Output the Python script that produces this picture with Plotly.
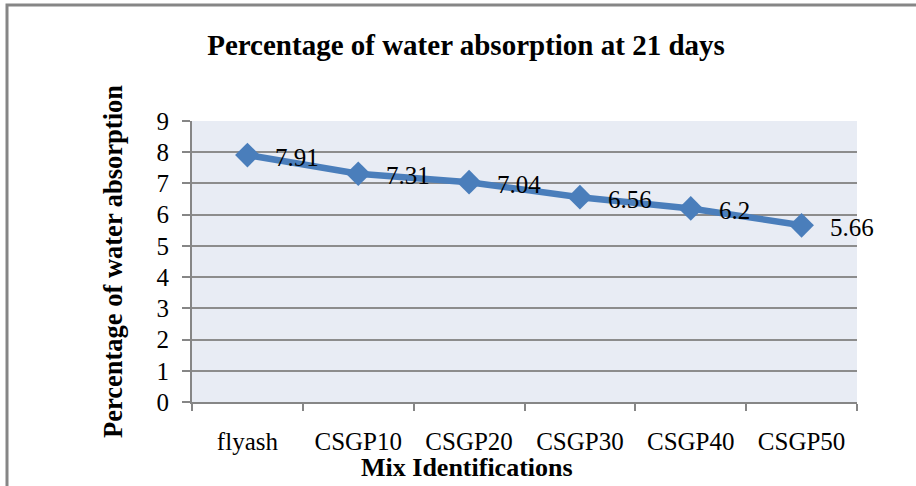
import plotly.graph_objects as go

categories = ["flyash", "CSGP10", "CSGP20", "CSGP30", "CSGP40", "CSGP50"]
values = [7.91, 7.31, 7.04, 6.56, 6.2, 5.66]
value_labels = ["7.91", "7.31", "7.04", "6.56", "6.2", "5.66"]
y_ticks = list(range(0, 10))

W, H = 916, 486
L, R, T, B = 192, 59, 121, 84
pw, ph = W - L - R, H - T - B

def px_x(x):
    return (x - L) / pw

def px_y(y):
    return (H - B - y) / ph

FONT = "Liberation Serif, Times New Roman, serif"
BLUE = "#4A7EBB"

fig = go.Figure()
fig.add_trace(go.Scatter(
    x=categories, y=values,
    mode="lines+markers",
    line=dict(color=BLUE, width=6.5),
    marker=dict(symbol="diamond", size=19, color=BLUE),
    cliponaxis=False,
    showlegend=False,
))

annotations = []
for c, v, t in zip(categories, values, value_labels):
    annotations.append(dict(
        x=c, y=v, xref="x", yref="y", text=t, showarrow=False,
        xanchor="left", yanchor="middle", xshift=26, yshift=-2,
        font=dict(family=FONT, size=25, color="black"),
    ))

annotations.append(dict(
    text="<b>Mix Identifications</b>",
    xref="paper", yref="paper", x=px_x(467), y=px_y(467),
    xanchor="center", yanchor="middle", showarrow=False,
    font=dict(family=FONT, size=26, color="black"),
))
annotations.append(dict(
    text="<b>Percentage of water absorption</b>",
    xref="paper", yref="paper", x=px_x(113), y=px_y(262),
    xanchor="center", yanchor="middle", showarrow=False, textangle=-90,
    font=dict(family=FONT, size=26.5, color="black"),
))

fig.update_layout(
    width=W, height=H,
    margin=dict(l=L, r=R, t=T, b=B),
    paper_bgcolor="white",
    plot_bgcolor="#E8ECF4",
    title=dict(text="<b>Percentage of water absorption at 21 days</b>",
               font=dict(family=FONT, size=29, color="black"),
               x=466 / W, xanchor="center", y=1 - 45 / H, yanchor="middle",
               xref="container", yref="container"),
    xaxis=dict(
        type="category",
        showline=True, linecolor="#868686", linewidth=2,
        ticks="outside", ticklen=7, tickcolor="#868686", tickwidth=2,
        tickson="boundaries",
        showgrid=False,
        ticklabelstandoff=16,
        tickfont=dict(family=FONT, size=25, color="black"),
        range=[-0.5, 5.5],
    ),
    yaxis=dict(
        range=[0, 9], tickvals=y_ticks,
        showline=True, linecolor="#868686", linewidth=2,
        ticks="outside", ticklen=8, tickcolor="#868686", tickwidth=2,
        showgrid=True, gridcolor="#8C8C8C", gridwidth=2,
        zeroline=False,
        ticklabelstandoff=8,
        tickfont=dict(family=FONT, size=25, color="black"),
    ),
    annotations=annotations,
    shapes=[dict(
        type="rect", xref="paper", yref="paper",
        x0=px_x(7), x1=px_x(930), y0=px_y(500), y1=px_y(5),
        line=dict(color="#868686", width=3), fillcolor="rgba(0,0,0,0)",
        layer="below",
    )],
)

fig.write_html("out.html", config={"displayModeBar": False},
               post_script="document.body.style.margin='0px';")
